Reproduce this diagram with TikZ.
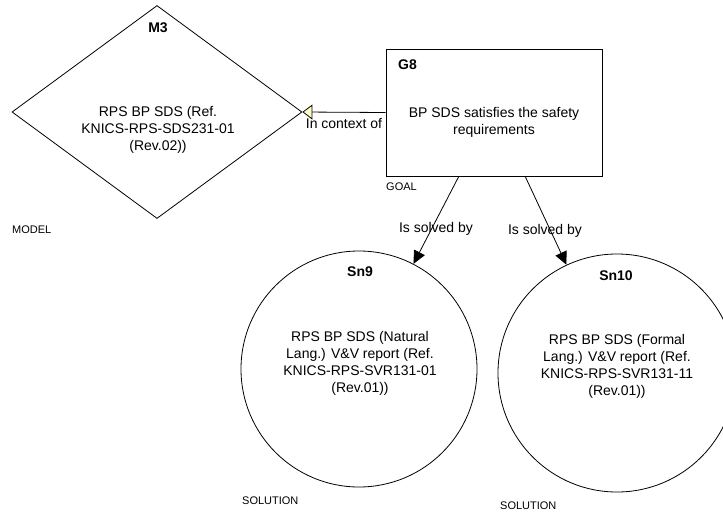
\documentclass[tikz,border=0pt]{standalone}
\usepackage{fontspec}
\setmainfont{Liberation Sans}
\usetikzlibrary{shapes.geometric,arrows.meta}
\tikzset{
  shapeline/.style={draw=black, line width=0.8pt, inner sep=0pt},
  body/.style={font=\fontsize{14}{17}\selectfont, align=center, inner sep=0pt},
  tag/.style={font=\fontsize{14}{17}\selectfont\bfseries, inner sep=0pt},
  kind/.style={font=\fontsize{11}{12}\selectfont, anchor=west, inner sep=0pt},
  linklabel/.style={font=\fontsize{14}{17}\selectfont, inner sep=0pt},
  solvedby/.style={line width=0.8pt, -{Triangle[length=13pt,width=12pt]}},
  incontext/.style={line width=0.8pt, -{Triangle[length=10pt,width=15pt,fill=yellow!20]}},
}
\begin{document}
\begin{tikzpicture}[x=1pt,y=-1pt]
\useasboundingbox (0,0) rectangle (723,512);
\clip (0,0) rectangle (723,512);

% model (diamond)
\node[shapeline, diamond, minimum width=290pt, minimum height=213pt] (m3) at (157,112) {};
\node[tag] (m3id) at (158,28) {M3};
\node[body] (m3txt) at (158,130) {RPS BP SDS (Ref.\\KNICS-RPS-SDS231-01\\(Rev.02))};
\node[kind] (m3kind) at (12,230) {MODEL};

% goal (rectangle)
\node[shapeline, rectangle, minimum width=216pt, minimum height=127pt] (g8) at (494,112.5) {};
\node[tag, anchor=west] (g8id) at (398,65) {G8};
\node[body] (g8txt) at (494,122) {BP SDS satisfies the safety\\requirements};
\node[kind] (g8kind) at (386,187) {GOAL};

% solutions (circles)
\node[shapeline, circle, minimum size=236pt] (sn9) at (359,369) {};
\node[tag] (sn9id) at (360,272) {Sn9};
\node[body] (sn9txt) at (360,363) {RPS BP SDS (Natural\\Lang.) V\&V report (Ref.\\KNICS-RPS-SVR131-01\\(Rev.01))};
\node[kind] (sn9kind) at (242,501) {SOLUTION};

\node[shapeline, circle, minimum size=238pt] (sn10) at (617,373) {};
\node[tag] (sn10id) at (616,276) {Sn10};
\node[body] (sn10txt) at (617,366) {RPS BP SDS (Formal\\Lang.) V\&V report (Ref.\\KNICS-RPS-SVR131-11\\(Rev.01))};
\node[kind] (sn10kind) at (500,506) {SOLUTION};

% connectors
\coordinate (g8a) at (459,176);
\coordinate (g8b) at (525,176);
\draw[incontext] (g8.west) -- (m3.east);
\node[linklabel] (ctx) at (344,123) {In context of};
\draw[solvedby] (g8a) -- (sn9);
\draw[solvedby] (g8b) -- (sn10);
\node[linklabel] (sol1) at (436,229) {Is solved by};
\node[linklabel] (sol2) at (545,231) {Is solved by};
\end{tikzpicture}
\end{document}
